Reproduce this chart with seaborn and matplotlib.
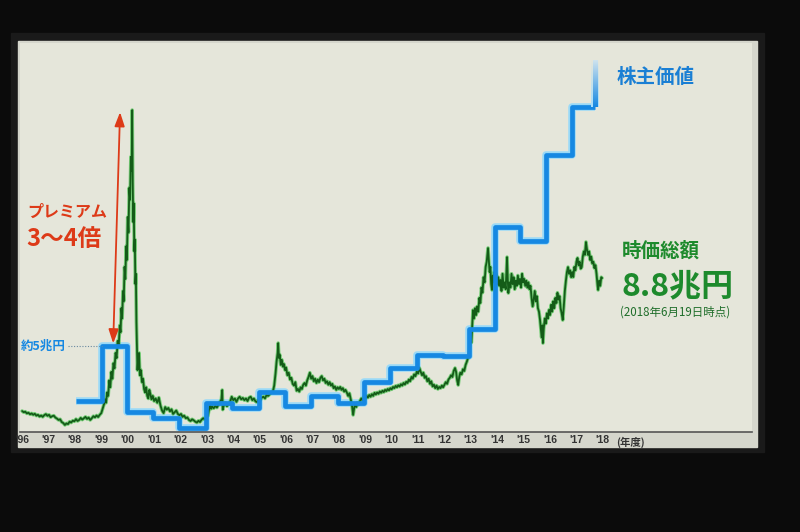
import numpy as np
import pandas as pd
import seaborn as sns
import matplotlib.pyplot as plt
from matplotlib.patches import Rectangle
from matplotlib.colors import LinearSegmentedColormap
import matplotlib.transforms as mtransforms

sns.set_theme(style='white')
plt.rcParams['font.family'] = ['Noto Sans CJK JP', 'DejaVu Sans']

# 時価総額 (兆円), rows of ten
green_year = [
    1996.00, 1996.06, 1996.12, 1996.18, 1996.24, 1996.30, 1996.36, 1996.42, 1996.48, 1996.54,
    1996.60, 1996.66, 1996.72, 1996.78, 1996.84, 1996.90, 1996.96, 1997.02, 1997.08, 1997.14,
    1997.20, 1997.26, 1997.32, 1997.38, 1997.44, 1997.50, 1997.56, 1997.62, 1997.68, 1997.74,
    1997.80, 1997.86, 1997.92, 1997.98, 1998.04, 1998.10, 1998.16, 1998.22, 1998.28, 1998.34,
    1998.40, 1998.46, 1998.52, 1998.58, 1998.64, 1998.70, 1998.76, 1998.82, 1998.88, 1998.94,
    1999.00, 1999.05, 1999.10, 1999.14, 1999.18, 1999.22, 1999.26, 1999.30, 1999.34, 1999.38,
    1999.42, 1999.46, 1999.50, 1999.54, 1999.58, 1999.62, 1999.66, 1999.70, 1999.73, 1999.76,
    1999.79, 1999.82, 1999.85, 1999.88, 1999.91, 1999.94, 1999.97, 2000.00, 2000.03, 2000.06,
    2000.09, 2000.12, 2000.15, 2000.17, 2000.19, 2000.21, 2000.23, 2000.25, 2000.27, 2000.29,
    2000.31, 2000.33, 2000.35, 2000.37, 2000.40, 2000.43, 2000.46, 2000.50, 2000.54, 2000.58,
    2000.62, 2000.66, 2000.70, 2000.74, 2000.78, 2000.82, 2000.86, 2000.90, 2000.95, 2001.00,
    2001.06, 2001.12, 2001.18, 2001.24, 2001.30, 2001.36, 2001.42, 2001.48, 2001.54, 2001.60,
    2001.66, 2001.72, 2001.78, 2001.84, 2001.90, 2001.96, 2002.02, 2002.08, 2002.14, 2002.20,
    2002.26, 2002.32, 2002.38, 2002.44, 2002.50, 2002.56, 2002.62, 2002.68, 2002.74, 2002.80,
    2002.86, 2002.92, 2002.98, 2003.04, 2003.08, 2003.12, 2003.16, 2003.20, 2003.26, 2003.32,
    2003.38, 2003.44, 2003.50, 2003.55, 2003.58, 2003.60, 2003.64, 2003.70, 2003.76, 2003.82,
    2003.88, 2003.94, 2004.00, 2004.06, 2004.12, 2004.18, 2004.24, 2004.30, 2004.36, 2004.42,
    2004.48, 2004.54, 2004.60, 2004.66, 2004.72, 2004.78, 2004.84, 2004.90, 2004.96, 2005.02,
    2005.08, 2005.14, 2005.20, 2005.26, 2005.32, 2005.38, 2005.44, 2005.50, 2005.55, 2005.60,
    2005.64, 2005.68, 2005.70, 2005.73, 2005.76, 2005.80, 2005.84, 2005.88, 2005.92, 2005.96,
    2006.00, 2006.05, 2006.10, 2006.15, 2006.20, 2006.25, 2006.30, 2006.35, 2006.40, 2006.45,
    2006.50, 2006.55, 2006.60, 2006.65, 2006.70, 2006.75, 2006.80, 2006.85, 2006.90, 2006.95,
    2007.00, 2007.05, 2007.10, 2007.15, 2007.20, 2007.25, 2007.30, 2007.35, 2007.40, 2007.45,
    2007.50, 2007.55, 2007.60, 2007.65, 2007.70, 2007.75, 2007.80, 2007.85, 2007.90, 2007.95,
    2008.00, 2008.05, 2008.10, 2008.15, 2008.20, 2008.25, 2008.30, 2008.35, 2008.40, 2008.45,
    2008.50, 2008.54, 2008.58, 2008.62, 2008.66, 2008.70, 2008.75, 2008.80, 2008.85, 2008.90,
    2008.95, 2009.00, 2009.05, 2009.10, 2009.15, 2009.20, 2009.25, 2009.30, 2009.35, 2009.40,
    2009.45, 2009.50, 2009.55, 2009.60, 2009.65, 2009.70, 2009.75, 2009.80, 2009.85, 2009.90,
    2009.95, 2010.00, 2010.05, 2010.10, 2010.15, 2010.20, 2010.25, 2010.30, 2010.35, 2010.40,
    2010.45, 2010.50, 2010.55, 2010.60, 2010.65, 2010.70, 2010.75, 2010.80, 2010.85, 2010.90,
    2010.95, 2011.00, 2011.05, 2011.10, 2011.15, 2011.20, 2011.25, 2011.30, 2011.35, 2011.40,
    2011.45, 2011.50, 2011.55, 2011.60, 2011.65, 2011.70, 2011.75, 2011.80, 2011.85, 2011.90,
    2011.95, 2012.00, 2012.05, 2012.10, 2012.15, 2012.20, 2012.25, 2012.30, 2012.35, 2012.40,
    2012.44, 2012.48, 2012.52, 2012.56, 2012.60, 2012.65, 2012.70, 2012.75, 2012.80, 2012.85,
    2012.89, 2012.94, 2012.98, 2013.02, 2013.05, 2013.08, 2013.12, 2013.16, 2013.20, 2013.24,
    2013.28, 2013.32, 2013.36, 2013.40, 2013.44, 2013.48, 2013.52, 2013.56, 2013.60, 2013.65,
    2013.68, 2013.71, 2013.74, 2013.77, 2013.80, 2013.83, 2013.86, 2013.89, 2013.92, 2013.96,
    2014.00, 2014.04, 2014.08, 2014.12, 2014.16, 2014.20, 2014.24, 2014.28, 2014.32, 2014.37,
    2014.40, 2014.42, 2014.46, 2014.50, 2014.54, 2014.58, 2014.62, 2014.66, 2014.70, 2014.74,
    2014.78, 2014.82, 2014.86, 2014.90, 2014.94, 2014.98, 2015.02, 2015.06, 2015.10, 2015.14,
    2015.18, 2015.22, 2015.26, 2015.30, 2015.34, 2015.38, 2015.42, 2015.46, 2015.50, 2015.54,
    2015.58, 2015.62, 2015.65, 2015.68, 2015.71, 2015.73, 2015.76, 2015.80, 2015.84, 2015.88,
    2015.92, 2015.96, 2016.00, 2016.04, 2016.08, 2016.12, 2016.16, 2016.20, 2016.24, 2016.28,
    2016.32, 2016.36, 2016.40, 2016.44, 2016.48, 2016.52, 2016.56, 2016.60, 2016.64, 2016.68,
    2016.72, 2016.76, 2016.80, 2016.84, 2016.88, 2016.92, 2016.96, 2017.00, 2017.04, 2017.08,
    2017.12, 2017.16, 2017.20, 2017.24, 2017.28, 2017.32, 2017.36, 2017.40, 2017.44, 2017.48,
    2017.52, 2017.56, 2017.60, 2017.64, 2017.68, 2017.72, 2017.76, 2017.80, 2017.82, 2017.86,
    2017.90, 2017.94, 2017.97,
]
green_value = [
    1.22, 1.15, 1.18, 1.08, 1.12, 1.03, 1.08, 1.00, 1.06, 0.95,
    1.00, 0.90, 0.96, 0.88, 0.98, 1.04, 0.94, 1.00, 0.86, 0.92,
    0.95, 0.84, 0.78, 0.70, 0.74, 0.58, 0.52, 0.41, 0.50, 0.46,
    0.60, 0.55, 0.66, 0.62, 0.75, 0.64, 0.70, 0.82, 0.72, 0.80,
    0.88, 0.76, 0.84, 0.70, 0.80, 0.92, 0.85, 0.96, 0.87, 1.00,
    1.10, 1.35, 1.60, 1.90, 1.70, 2.30, 2.10, 3.00, 2.60, 3.50,
    3.10, 4.00, 3.70, 4.60, 4.30, 5.30, 5.00, 6.20, 5.80, 7.20,
    6.60, 8.20, 7.60, 9.60, 8.90, 10.80, 10.00, 12.50, 11.60, 14.20,
    13.50, 16.00, 15.20, 18.72, 14.50, 12.20, 13.30, 10.50, 11.20, 8.60,
    9.20, 6.40, 5.00, 3.60, 4.40, 4.60, 3.30, 3.60, 2.90, 3.10,
    2.50, 2.30, 2.60, 2.10, 1.95, 2.45, 2.20, 1.90, 2.10, 1.80,
    1.95, 1.70, 2.00, 1.55, 1.25, 1.10, 1.45, 1.30, 1.40, 1.20,
    1.32, 1.05, 1.15, 1.25, 1.05, 0.98, 1.05, 0.88, 0.95, 0.80,
    0.85, 0.70, 0.64, 0.74, 0.68, 0.60, 0.55, 0.65, 0.58, 0.72,
    0.80, 0.74, 0.85, 0.95, 1.30, 1.57, 1.35, 1.48, 1.38, 1.52,
    1.42, 1.60, 1.75, 1.90, 2.44, 1.30, 1.55, 1.70, 1.50, 1.62,
    1.75, 2.05, 1.85, 1.95, 1.75, 1.95, 2.05, 1.90, 1.98, 1.85,
    1.95, 1.80, 2.00, 2.05, 1.85, 1.95, 1.78, 1.74, 1.90, 1.85,
    2.00, 2.05, 1.95, 2.15, 2.10, 2.20, 2.30, 2.35, 2.70, 3.40,
    4.10, 4.60, 5.17, 4.30, 4.50, 3.90, 4.20, 3.80, 3.95, 3.60,
    3.75, 3.30, 3.45, 3.05, 3.15, 2.80, 2.70, 2.90, 2.40, 2.50,
    2.35, 2.60, 2.50, 2.75, 2.85, 2.70, 3.00, 3.20, 3.45, 3.10,
    3.25, 2.95, 3.10, 2.85, 3.05, 2.90, 3.15, 3.25, 3.00, 3.10,
    2.85, 2.95, 2.75, 2.90, 2.70, 2.80, 2.55, 2.65, 2.45, 2.60,
    2.50, 2.62, 2.45, 2.55, 2.35, 2.45, 2.30, 2.10, 2.25, 1.90,
    1.50, 0.99, 1.40, 1.65, 1.45, 1.70, 1.60, 1.80, 1.95, 1.85,
    2.05, 1.95, 2.10, 2.00, 2.15, 2.05, 2.20, 2.10, 2.28, 2.18,
    2.30, 2.22, 2.36, 2.28, 2.40, 2.32, 2.45, 2.38, 2.50, 2.42,
    2.55, 2.48, 2.62, 2.55, 2.68, 2.60, 2.72, 2.64, 2.78, 2.70,
    2.85, 2.76, 2.92, 2.85, 3.05, 2.95, 3.20, 3.10, 3.35, 3.25,
    3.50, 3.40, 3.72, 3.50, 3.30, 3.45, 3.15, 3.25, 2.95, 3.10,
    2.80, 2.95, 2.65, 2.75, 2.55, 2.70, 2.50, 2.62, 2.55, 2.70,
    2.60, 2.75, 2.90, 2.80, 3.05, 3.15, 3.30, 3.20, 3.55, 3.72,
    3.50, 3.00, 2.73, 3.20, 3.45, 3.35, 3.65, 3.55, 3.90, 4.10,
    4.30, 4.60, 5.40, 5.20, 6.10, 7.09, 6.60, 7.20, 6.80, 7.30,
    7.00, 7.80, 7.50, 8.40, 8.10, 9.00, 8.70, 9.60, 9.90, 10.70,
    10.00, 9.30, 9.60, 8.60, 8.26, 9.10, 8.70, 9.30, 8.80, 9.20,
    8.60, 9.00, 8.50, 8.84, 8.20, 9.20, 8.40, 8.70, 8.30, 10.17,
    8.80, 8.08, 8.70, 8.40, 9.20, 8.60, 9.00, 8.30, 8.80, 8.50,
    9.10, 8.60, 8.90, 8.40, 9.20, 8.70, 8.90, 8.50, 8.80, 8.40,
    8.70, 8.30, 8.50, 7.80, 7.30, 7.70, 8.20, 7.60, 7.90, 7.20,
    7.00, 6.51, 6.00, 5.50, 6.20, 5.17, 6.00, 6.60, 6.30, 6.90,
    6.60, 7.10, 6.80, 7.40, 7.00, 7.60, 7.20, 7.80, 7.50, 8.10,
    7.70, 7.90, 7.20, 6.90, 6.51, 7.30, 8.20, 8.80, 9.30, 9.59,
    9.20, 9.40, 9.00, 9.30, 9.01, 9.60, 9.40, 9.90, 10.12, 9.70,
    9.90, 9.50, 9.59, 10.20, 10.50, 10.30, 11.05, 10.60, 10.30, 10.50,
    10.00, 10.20, 9.80, 9.90, 9.53, 9.70, 9.20, 8.50, 8.26, 8.80,
    8.50, 9.00, 8.95,
]

# 株主価値 (兆円) step series
blue_edges = [1998.05, 1999.03, 1999.98, 2000.97, 2001.95, 2002.95, 2003.97, 2004.96, 2005.95, 2006.95,
              2007.95, 2008.95, 2009.95, 2010.97, 2011.95, 2012.92, 2013.90, 2014.87, 2015.85, 2016.83,
              2017.70]
blue_value = [1.8, 5.0, 1.15, 0.8, 0.25, 1.7, 1.4, 2.3, 1.5, 2.1,
              1.7, 2.9, 3.7, 4.5, 4.4, 6.0, 11.9, 11.1, 16.1, 18.9]
blue_top = 21.6

year_ticks = list(range(1996, 2019))
year_labels = ["'%02d" % (y % 100) for y in year_ticks]

green_df = pd.DataFrame({'year': green_year, 'value': green_value})
blue_df = pd.DataFrame({'year': blue_edges, 'value': blue_value + [blue_value[-1]]})

BLUE = '#1688e2'
BLUE_GLOW = '#86d6ff'
GREEN = '#145c18'
GREEN_GLOW = '#4cc452'
RED = '#dd3a18'
TEXT_GREEN = '#1d8a2c'
SCREEN = '#e5e6da'

fig = plt.figure(figsize=(8, 5.32), dpi=100, facecolor='#0b0b0b')
fig.patches.append(Rectangle((11 / 800, (532 - 452) / 532), (764 - 11) / 800, (452 - 33) / 532,
                             transform=fig.transFigure, color='#1a1a1a', zorder=-20))
fig.patches.append(Rectangle((18 / 800, (532 - 447) / 532), (757 - 18) / 800, (447 - 41) / 532,
                             transform=fig.transFigure, color='#d5d6cc', zorder=-10))
ax = fig.add_axes([20 / 800, (532 - 432) / 532, (752 - 20) / 800, (432 - 43) / 532])
ax.set_zorder(5)
ax.set_facecolor(SCREEN)

# glow underlays, then the lines
sns.lineplot(data=blue_df, x='year', y='value', ax=ax, drawstyle='steps-post', estimator=None,
             color=BLUE_GLOW, lw=5.4, alpha=0.8, solid_capstyle='butt')
sns.lineplot(data=green_df, x='year', y='value', ax=ax, estimator=None, color=GREEN_GLOW, lw=2.6, alpha=0.7)
sns.lineplot(data=green_df, x='year', y='value', ax=ax, estimator=None, color=GREEN, lw=1.3)
sns.lineplot(data=blue_df, x='year', y='value', ax=ax, drawstyle='steps-post', estimator=None,
             color=BLUE, lw=3.4, solid_capstyle='butt')

# fading top of the shareholder value line (vertical gradient strips)
x_end = blue_edges[-1]
y0 = blue_value[-1]
grad = np.linspace(0, 1, 200).reshape(-1, 1)
cm_glow = LinearSegmentedColormap.from_list('glow', ['#a8defa', SCREEN])
cm_main = LinearSegmentedColormap.from_list('main', [BLUE, '#cfe3ee'])
ax.imshow(grad, extent=[x_end - 0.142, x_end + 0.142, y0, blue_top], origin='lower',
          aspect='auto', cmap=cm_glow, zorder=3, interpolation='bilinear')
ax.imshow(grad, extent=[x_end - 0.09, x_end + 0.09, y0, blue_top], origin='lower',
          aspect='auto', cmap=cm_main, zorder=3.1, interpolation='bilinear')

# premium arrow
ax.annotate('', xy=(1999.71, 18.6), xytext=(1999.45, 5.15),
            arrowprops=dict(arrowstyle='<|-|>,head_length=0.7,head_width=0.25', color=RED, lw=1.3,
                            shrinkA=0, shrinkB=0))
ax.text(1996.19, 12.8, 'プレミアム', color=RED, fontsize=11.5, fontweight='bold', va='center', ha='left')
ax.text(1996.15, 11.25, '3〜4倍', color=RED, fontsize=17, fontweight='bold', va='center', ha='left')

# 約5兆円 marker
ax.plot([1997.72, 1999.03], [5.0, 5.0], color='#6a8aa0', lw=0.8, ls=(0, (1, 1.5)))
ax.text(1995.95, 5.0, '約5兆円', color=BLUE, fontsize=9, fontweight='bold', va='center', ha='left')

ax.text(2018.52, 20.6, '株主価値', color='#1a7fd4', fontsize=14, fontweight='bold', va='center', ha='left')
ax.text(2018.72, 10.5, '時価総額', color=TEXT_GREEN, fontsize=14, fontweight='bold', va='center', ha='left')
ax.text(2018.70, 8.5, '8.8兆円', color=TEXT_GREEN, fontsize=23, fontweight='bold', va='center', ha='left')
ax.text(2018.66, 6.98, '(2018年6月19日時点)', color='#1f6e2a', fontsize=8.3, va='center', ha='left')

ax.set_xlim(1995.92, 2023.65)
ax.set_ylim(0, 22.62)
ax.set_xticks(year_ticks)
ax.set_xticklabels(year_labels, fontweight='bold', family=['Liberation Sans', 'DejaVu Sans'])
ax.tick_params(axis='x', length=0, pad=2, labelsize=7.5, colors='#333333')
ax.set_yticks([])
ax.set_xlabel('')
ax.set_ylabel('')
for s in ['top', 'right', 'left']:
    ax.spines[s].set_visible(False)
ax.spines['bottom'].set_color('#555555')
ax.spines['bottom'].set_linewidth(1.2)

trans = mtransforms.blended_transform_factory(ax.transData, ax.transAxes)
ax.text(2019.05, -0.013, '(年度)', transform=trans, color='#333333', fontsize=7.5, fontweight='bold',
        va='top', ha='center')

fig.savefig('out.png', dpi=100, facecolor=fig.get_facecolor())
